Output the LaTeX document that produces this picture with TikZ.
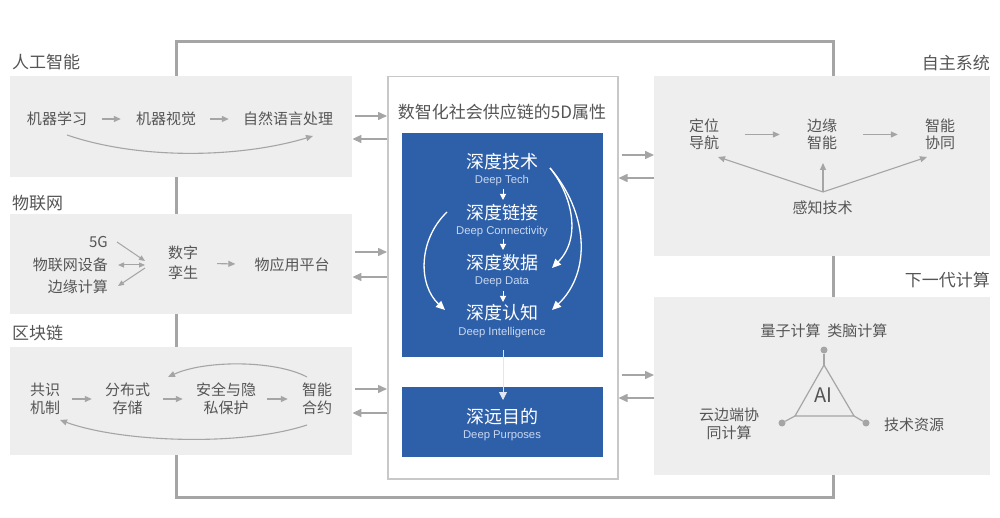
\documentclass[tikz,border=0pt]{standalone}
\usepackage{fontspec}
\setmainfont{Noto Sans CJK SC}
\newfontfamily\enfont{Liberation Sans}
\usetikzlibrary{arrows.meta}
\definecolor{panel}{RGB}{238,238,238}
\definecolor{txt}{RGB}{85,85,85}
\definecolor{arr}{RGB}{165,165,165}
\definecolor{framec}{RGB}{165,165,165}
\definecolor{boxline}{RGB}{200,200,200}
\definecolor{deepblue}{RGB}{46,96,170}
\definecolor{lightblue}{RGB}{200,215,238}
\begin{document}
\begin{tikzpicture}[x=1pt,y=-1pt,
  panelbox/.style={fill=panel,draw=none,inner sep=0pt,anchor=north west},
  lbl/.style={text=txt,font=\fontsize{15}{18}\selectfont,inner sep=0pt,align=center},
  ttl/.style={text=txt,font=\fontsize{17}{20}\selectfont,inner sep=0pt},
  garrow/.style={draw=arr,line width=1.1pt,-{Triangle[length=7pt,width=6pt]}},
  sarrow/.style={draw=arr,line width=1pt,-{Triangle[length=6pt,width=5pt]}},
  carrow/.style={draw=arr,line width=1.5pt,-{Triangle[length=9pt,width=8pt]}},
  gline/.style={draw=arr,line width=1.2pt},
  gdot/.style={circle,fill=arr,inner sep=0pt,minimum size=7pt},
  bluebox/.style={fill=deepblue,draw=none,inner sep=0pt,anchor=north west},
  zh/.style={text=white,font=\fontsize{18}{20}\selectfont,inner sep=0pt},
  en/.style={text=lightblue,font=\enfont\fontsize{11.3}{13}\selectfont,inner sep=0pt},
  warrow/.style={draw=white,line width=1.3pt,-{Triangle[length=9pt,width=8pt]}},
  wsmall/.style={draw=white,line width=1pt,-{Triangle[length=6pt,width=6pt]}}
]
\useasboundingbox (0,0) rectangle (1000,518);
% outer frame
\draw[framec,line width=3pt] (176,42) rectangle (833,497);

% ---------- left panels ----------
\node[ttl,anchor=west] (tai) at (12,62) {人工智能};
\node[panelbox,minimum width=342pt,minimum height=101pt] (ai) at (10,76) {};
\node[lbl] (ml) at (57,119) {机器学习};
\node[lbl] (mv) at (166,119) {机器视觉};
\node[lbl] (nlp) at (288,119) {自然语言处理};
\draw[garrow,shorten <=15pt,shorten >=15pt] (ml) -- (mv);
\draw[garrow,shorten <=14pt,shorten >=14pt] (mv) -- (nlp);
\coordinate (aiA) at (67,135);
\coordinate (aiB) at (313,136);
\draw[garrow] (aiA) .. controls (140,160) and (240,158) .. (aiB);

\node[ttl,anchor=west] (tiot) at (12,203) {物联网};
\node[panelbox,minimum width=342pt,minimum height=100pt] (iot) at (10,214) {};
\node[lbl,anchor=east] (g5) at (108,242) {5G};
\node[lbl,anchor=east] (iotd) at (108,265) {物联网设备};
\node[lbl,anchor=east] (edgec) at (108,287) {边缘计算};
\node[lbl,font=\fontsize{15}{20}\selectfont] (twin) at (183,263) {数字\\孪生};
\node[lbl] (plat) at (292,265) {物应用平台};
\coordinate (hubA) at (145,261);
\coordinate (hubB) at (145,265);
\coordinate (hubC) at (145,268);
\coordinate (g5e) at (117,242);
\coordinate (iotde) at (118,265);
\coordinate (edgee) at (118,286);
\draw[sarrow] (g5e) -- (hubA);
\draw[sarrow,{Triangle[length=6pt,width=5pt]}-{Triangle[length=6pt,width=5pt]}] (iotde) -- (hubB);
\draw[sarrow] (hubC) -- (edgee);
\draw[garrow,shorten <=19pt,shorten >=19pt] (twin) -- (plat);

\node[ttl,anchor=west] (tbc) at (12,333) {区块链};
\node[panelbox,minimum width=342pt,minimum height=108pt] (bc) at (10,347) {};
\node[lbl] (cons) at (45,399) {共识\\机制};
\node[lbl] (stor) at (127.5,399) {分布式\\存储};
\node[lbl] (priv) at (226,399) {安全与隐\\私保护};
\node[lbl] (smart) at (317,399) {智能\\合约};
\draw[garrow,shorten <=12pt,shorten >=13pt] (cons) -- (stor);
\draw[garrow,shorten <=13pt,shorten >=13pt] (stor) -- (priv);
\draw[garrow,shorten <=11pt,shorten >=14pt] (priv) -- (smart);
\coordinate (bcA) at (307,377);
\coordinate (bcB) at (168,377);
\coordinate (bcC) at (307,425);
\coordinate (bcD) at (60,420);
\draw[garrow] (bcA) .. controls (275,360) and (205,360) .. (bcB);
\draw[garrow] (bcC) .. controls (240,447) and (120,442) .. (bcD);

% ---------- center ----------
\node[draw=boxline,line width=1.5pt,fill=white,inner sep=0pt,anchor=north west,minimum width=230pt,minimum height=402pt] (mid) at (387,76) {};
\node[text=txt,font=\fontsize{17}{19}\selectfont,inner sep=0pt] (mtitle) at (502,112) {数智化社会供应链的5D属性};
\node[bluebox,minimum width=201pt,minimum height=224pt] (b1) at (402,133) {};
\node[bluebox,minimum width=201pt,minimum height=70pt] (b2) at (402,387) {};

\node[zh] (tech) at (502,162) {深度技术};
\node[en] (techE) at (502,181) {Deep Tech};
\node[zh] (link) at (502,213) {深度链接};
\node[en] (linkE) at (502,232) {Deep Connectivity};
\node[zh] (data) at (502,263) {深度数据};
\node[en] (dataE) at (502,282) {Deep Data};
\node[zh] (cog) at (502,313) {深度认知};
\node[en] (cogE) at (502,333) {Deep Intelligence};
\node[zh] (purp) at (502,417) {深远目的};
\node[en] (purpE) at (502,436) {Deep Purposes};

\draw[wsmall] (503,189) -- (503,200);
\draw[wsmall] (503,239) -- (503,250);
\draw[wsmall] (503,291) -- (503,302);
\coordinate (cogBot) at (503,350);
\coordinate (purpTop) at (503,400);
\draw[draw=white!85!deepblue,line width=0.8pt,-{Triangle[length=8pt,width=8pt]}] (cogBot) -- (purpTop);

\coordinate (techR) at (550,168);
\coordinate (dataR) at (552,268);
\coordinate (cogR) at (552,310);
\coordinate (linkL) at (447,212);
\coordinate (cogL) at (445,310);
\draw[warrow] (techR) .. controls (572,195) and (582,238) .. (dataR);
\draw[warrow] (techR) .. controls (588,212) and (592,272) .. (cogR);
\draw[warrow] (linkL) .. controls (418,240) and (418,285) .. (cogL);

% ---------- right panels ----------
\node[ttl,anchor=east] (tas) at (990,63) {自主系统};
\node[panelbox,minimum width=336pt,minimum height=180pt] (as) at (654,76) {};
\node[lbl,font=\fontsize{15}{17}\selectfont] (pos) at (704,134.5) {定位\\导航};
\node[lbl,font=\fontsize{15}{17}\selectfont] (ei) at (822,134.5) {边缘\\智能};
\node[lbl,font=\fontsize{15}{17}\selectfont] (ic) at (940,134.5) {智能\\协同};
\node[lbl] (sense) at (822.5,208) {感知技术};
\draw[garrow,shorten <=26pt,shorten >=27pt] (pos) -- (ei);
\draw[garrow,shorten <=26pt,shorten >=27pt] (ei) -- (ic);
\coordinate (sHub) at (823,192);
\coordinate (posB) at (718,157);
\coordinate (eiB) at (823,163);
\coordinate (icB) at (927,157);
\draw[garrow] (sHub) -- (posB);
\draw[garrow] (sHub) -- (eiB);
\draw[garrow] (sHub) -- (icB);

\node[ttl,anchor=east] (tnc) at (990,280) {下一代计算};
\node[panelbox,minimum width=336pt,minimum height=178pt] (nc) at (654,297) {};
\node[lbl] (qc) at (824,331) {量子计算~~类脑计算};
\node[gdot] (dTop) at (824,350) {};
\node[gdot] (dLeft) at (782,423) {};
\node[gdot] (dRight) at (866,423) {};
\coordinate (tA) at (824,365);
\coordinate (tB) at (795,416);
\coordinate (tC) at (854,416);
\draw[gline] (tA) -- (tB) -- (tC) -- cycle;
\draw[gline] (dTop) -- (tA);
\draw[gline] (dLeft) -- (tB);
\draw[gline] (dRight) -- (tC);
\node[text=txt,font=\fontsize{20}{22}\selectfont,inner sep=0pt] (aiT) at (823,395) {AI};
\node[lbl] (cloud) at (729,424) {云边端协\\同计算};
\node[lbl] (tres) at (914,425) {技术资源};

% ---------- connectors panel <-> center ----------
\draw[carrow] (ai.east |- 0,116) ++(3,0) -- (mid.west |- 0,116);
\draw[carrow] (mid.west |- 0,139) -- (ai.east |- 0,139);
\draw[carrow] (iot.east |- 0,252) ++(3,0) -- (mid.west |- 0,252);
\draw[carrow] (mid.west |- 0,277) -- (iot.east |- 0,277);
\draw[carrow] (bc.east |- 0,389) ++(3,0) -- (mid.west |- 0,389);
\draw[carrow] (mid.west |- 0,413) -- (bc.east |- 0,413);
\draw[carrow] (mid.east |- 0,155) ++(3,0) -- (as.west |- 0,155);
\draw[carrow] (as.west |- 0,178) -- (mid.east |- 0,178);
\draw[carrow] (mid.east |- 0,375) ++(3,0) -- (nc.west |- 0,375);
\draw[carrow] (nc.west |- 0,398) -- (mid.east |- 0,398);
\end{tikzpicture}
\end{document}
